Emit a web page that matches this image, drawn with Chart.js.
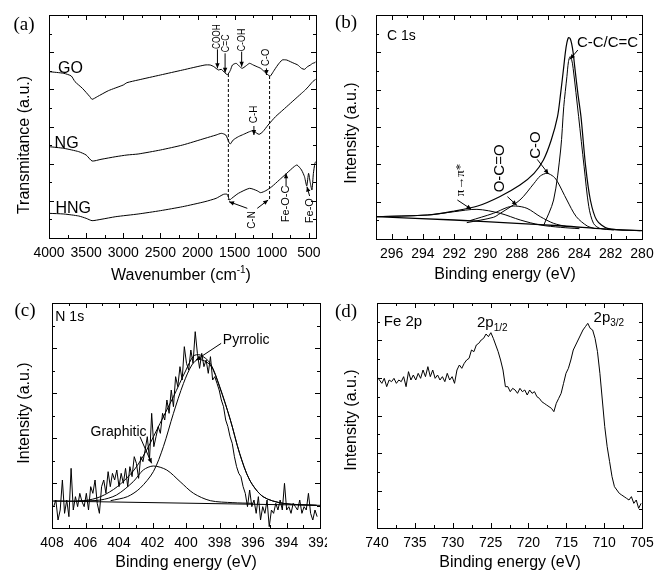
<!DOCTYPE html>
<html>
<head>
<meta charset="utf-8">
<script src="https://cdn.jsdelivr.net/npm/chart.js@4.4.1/dist/chart.umd.min.js"></script>
<style>
html, body { margin: 0; padding: 0; background: #fff; }
#wrap { position: relative; width: 654px; height: 573px; overflow: hidden; background: #fff; }
.pan { position: absolute; }
</style>
</head>
<body>
<div id="wrap">
  <div class="pan" style="left:0;top:0;width:327px;height:287px"><canvas id="ftir"></canvas></div>
  <div class="pan" style="left:327px;top:0;width:327px;height:287px"><canvas id="c1s"></canvas></div>
  <div class="pan" style="left:0;top:287px;width:327px;height:286px"><canvas id="n1s"></canvas></div>
  <div class="pan" style="left:327px;top:287px;width:327px;height:286px"><canvas id="fe2p"></canvas></div>
</div>
<script>
// ---- (a) FTIR, transmittance in arbitrary units
const ftirTicks = [4000, 3500, 3000, 2500, 2000, 1500, 1000, 500];
const goWave = [4000, 3800, 3700, 3650, 3550, 3450, 3420, 3350, 3200, 3000, 2950, 2800, 2500, 2200, 1900, 1830, 1780, 1720, 1680, 1600, 1560, 1530, 1480, 1440, 1400, 1350, 1300, 1250, 1200, 1150, 1100, 1050, 1020, 980, 920, 860, 800, 750, 700, 650, 600, 560, 520, 480, 450, 420, 410];
const goT = [499, 494, 486, 469, 449, 424, 416, 424, 442, 459, 466, 474, 489, 504, 519, 519, 514, 504, 506, 490, 502, 519, 524, 516, 509, 516, 524, 519, 514, 509, 499, 489, 486, 499, 519, 534, 534, 529, 524, 519, 509, 506, 514, 519, 524, 526, 529];
const ngWave = [4000, 3800, 3600, 3500, 3420, 3300, 3100, 2950, 2800, 2500, 2200, 1900, 1750, 1680, 1620, 1580, 1560, 1520, 1450, 1380, 1300, 1250, 1200, 1170, 1120, 1050, 950, 850, 750, 700, 650, 600, 550, 500, 450, 410];
const ngT = [274, 269, 259, 249, 231, 236, 244, 249, 252, 264, 279, 299, 309, 314, 309, 289, 282, 294, 304, 311, 319, 322, 314, 311, 319, 339, 364, 384, 404, 414, 424, 434, 444, 456, 469, 476];
const hngWave = [4000, 3800, 3600, 3500, 3420, 3300, 3100, 2800, 2500, 2200, 1900, 1750, 1650, 1600, 1570, 1540, 1450, 1300, 1200, 1150, 1080, 1000, 900, 800, 700, 660, 600, 560, 530, 505, 485, 460, 440, 420, 410];
const hngT = [74, 72, 66, 59, 52, 56, 64, 72, 82, 94, 109, 119, 131, 131, 114, 119, 134, 149, 142, 136, 142, 154, 174, 194, 214, 219, 204, 184, 156, 194, 169, 144, 194, 224, 229];

// ---- (b) C 1s
const c1sTicks = [296, 294, 292, 290, 288, 286, 284, 282, 280];
const c1sEnvE = [297, 293.7, 292, 290.5, 289.1, 287.8, 286.9, 286.3, 285.8, 285.4, 285.2, 285.0, 284.9, 284.8, 284.7, 284.6, 284.5, 284.4, 284.3, 284.1, 283.9, 283.6, 283.3, 282.9, 282.2, 280.1];
const c1sEnv = [67, 72, 84, 99, 127, 162, 197, 237, 297, 367, 437, 517, 559, 589, 604, 602, 587, 559, 517, 437, 367, 217, 117, 57, 32, 25];
const ccE = [286.3, 285.65, 285.2, 285.0, 284.8, 284.7, 284.6, 284.5, 284.4, 284.05, 283.7, 283.4, 283.1, 282.7, 281.8];
const ccI = [39, 117, 267, 397, 487, 532, 547, 539, 512, 367, 217, 97, 47, 32, 27];
const coE = [291.2, 289.5, 289.06, 287.8, 286.9, 286.5, 286.07, 285.65, 285.4, 284.8, 284.2, 283.5, 283.0];
const coI = [49, 65, 77, 117, 167, 189, 197, 187, 172, 117, 67, 39, 31];
const ocoE = [291.0, 289.5, 288.6, 288.1, 287.35, 286.5, 285.65, 284.8];
const ocoI = [55, 77, 95, 99, 92, 67, 47, 37];
const piE = [297, 293.7, 292.0, 290.55, 289.06, 287.78, 286.5, 285.2, 284.0];
const piI = [67, 72, 82, 89, 77, 57, 42, 35, 31];
const c1sBgE = [297, 292, 288, 285, 283, 282, 280];
const c1sBg = [67, 57, 47, 39, 32, 29, 25];

// ---- (c) N 1s, measured points start at 407.9 eV, 0.13 eV apart
const n1sTicks = [408, 406, 404, 402, 400, 398, 396, 394, 392];
const n1sStart = 407.9, n1sStep = 0.13;
const n1sRaw = [64, 84, 24, 54, 144, 44, 84, 34, 179, 54, 94, 64, 104, 79, 64, 104, 54, 124, 104, 144,
  74, 44, 124, 144, 104, 169, 124, 164, 144, 174, 124, 164, 134, 179, 124, 184, 154, 214, 194, 149,
  214, 199, 234, 274, 204, 344, 244, 274, 304, 284, 344, 324, 384, 344, 414, 364, 454, 424, 484, 444,
  544, 494, 474, 534, 494, 589, 524, 479, 524, 484, 504, 464, 514, 444, 454, 434, 414, 384, 364, 324,
  304, 274, 254, 214, 184, 164, 154, 124, 104, 64, 114, 64, 84, 44, 94, 24, 64, 44, 84, 4,
  54, 44, 74, 54, 84, 54, 134, 54, 64, 44, 74, 64, 54, 84, 44, 64, 54, 104, 44, 24, 54, 34];
const n1sEnvE = [407.9, 406.1, 405.1, 404.1, 403.1, 402.35, 401.55, 400.75, 400.0, 399.55, 399.15, 398.55, 398.0, 397.35, 396.8, 396.2, 395.4, 394.2, 392.2];
const n1sEnv = [81, 82, 94, 124, 174, 234, 314, 394, 474, 516, 519, 494, 426, 324, 224, 144, 94, 74, 68];
const pyrE = [404.5, 403.5, 402.75, 401.95, 401.35, 400.75, 400.15, 399.65, 399.25, 398.55, 398.0, 397.35, 396.8, 396.2, 395.4, 394.2, 392.2];
const pyrI = [82, 94, 119, 169, 244, 344, 434, 489, 506, 489, 424, 324, 224, 144, 94, 74, 68];
const graE = [406.5, 405.1, 404.15, 403.15, 402.55, 401.95, 401.15, 400.35, 399.55, 398.55, 397.2, 396.0];
const graI = [81, 84, 99, 139, 174, 186, 174, 139, 104, 82, 76, 74];
const n1sBgE = [408, 392];
const n1sBg = [81, 68];

// ---- (d) Fe 2p, measured points start at 740 eV, 0.32 eV apart
const fe2pTicks = [740, 735, 730, 725, 720, 715, 710, 705];
const fe2pStart = 740, fe2pStep = 0.32;
const fe2pRaw = [454, 444, 434, 449, 424, 444, 439, 449, 434, 444, 439, 454, 424, 469, 444, 459, 444, 464, 449, 474,
  454, 484, 454, 474, 449, 459, 444, 454, 439, 464, 444, 454, 434, 474, 489, 479, 494, 504, 509, 534,
  529, 549, 554, 564, 569, 582, 574, 586, 569, 549, 529, 504, 474, 424, 424, 409, 419, 414, 404, 419,
  409, 414, 399, 414, 404, 409, 394, 389, 379, 374, 369, 364, 359, 349, 374, 389, 404, 434, 464, 479,
  504, 534, 549, 564, 579, 594, 604, 614, 599, 594, 569, 529, 464, 384, 304, 244, 199, 154, 124, 114,
  104, 99, 94, 89, 84, 94, 74, 84, 59, 74];

const FAM = "'Liberation Sans', Arial, sans-serif";
const SERIF = "'Liberation Serif', 'Times New Roman', serif";

function curve(xs, ys, w, tension) {
  return {
    data: xs.map((x, i) => ({ x: x, y: ys[i] })),
    borderColor: '#000', borderWidth: w || 1, pointRadius: 0,
    showLine: true, fill: false, tension: tension || 0
  };
}
function spectrum(start, step, ys) {
  return {
    data: ys.map((y, i) => ({ x: start - i * step, y: y })),
    borderColor: '#000', borderWidth: 1, pointRadius: 0, showLine: true, fill: false, tension: 0
  };
}

function rich(ctx, parts, x, y, size, family, align) {
  const segs = parts.map(p => typeof p === 'string' ? { t: p } : p);
  let w = 0;
  segs.forEach(s => {
    ctx.font = (s.s ? Math.round(size * 0.65) : size) + 'px ' + family;
    s.w = ctx.measureText(s.t).width; w += s.w;
  });
  let cx = align === 'left' ? x : x - w / 2;
  ctx.textAlign = 'left'; ctx.textBaseline = 'middle';
  segs.forEach(s => {
    ctx.font = (s.s ? Math.round(size * 0.65) : size) + 'px ' + family;
    const dy = s.s === 'sub' ? size * 0.35 : s.s === 'sup' ? -size * 0.38 : 0;
    ctx.fillText(s.t, cx, y + dy);
    cx += s.w;
  });
}

function arrow(ctx, x1, y1, x2, y2, head) {
  ctx.beginPath(); ctx.moveTo(x1, y1); ctx.lineTo(x2, y2); ctx.stroke();
  if (!head) return;
  const a = Math.atan2(y2 - y1, x2 - x1), L = 5, W = 2.2;
  ctx.beginPath();
  ctx.moveTo(x2, y2);
  ctx.lineTo(x2 - L * Math.cos(a) + W * Math.sin(a), y2 - L * Math.sin(a) - W * Math.cos(a));
  ctx.lineTo(x2 - L * Math.cos(a) - W * Math.sin(a), y2 - L * Math.sin(a) + W * Math.cos(a));
  ctx.closePath(); ctx.fill();
}

// frame, inward ticks on four sides, notes and titles
const deco = {
  id: 'deco',
  afterDatasetsDraw(chart, args, o) {
    const ctx = chart.ctx, a = chart.chartArea, sx = chart.scales.x, sy = chart.scales.y;
    const px = v => sx.getPixelForValue(v), py = v => sy.getPixelForValue(v);
    ctx.save();
    ctx.strokeStyle = '#000'; ctx.fillStyle = '#000'; ctx.lineWidth = 1;
    ctx.strokeRect(Math.round(a.left) + 0.5, Math.round(a.top) + 0.5, Math.round(a.right - a.left), Math.round(a.bottom - a.top));
    ctx.beginPath();
    const t = o.xTicks;
    for (let v = t.from; v <= t.to + 1e-6; v += t.step) {
      const r = v / t.major, len = Math.abs(r - Math.round(r)) < 1e-6 ? 5 : 3;
      const X = Math.round(px(v)) + 0.5;
      ctx.moveTo(X, a.bottom); ctx.lineTo(X, a.bottom - len);
      ctx.moveTo(X, a.top); ctx.lineTo(X, a.top + len);
    }
    for (let i = 1; i < o.yDiv; i++) {
      const Y = Math.round(py(sy.max * i / o.yDiv)) + 0.5, len = i % 2 ? 3 : 5;
      ctx.moveTo(a.left, Y); ctx.lineTo(a.left + len, Y);
      ctx.moveTo(a.right, Y); ctx.lineTo(a.right - len, Y);
    }
    ctx.stroke();

    (o.dashed || []).forEach(d => {
      ctx.save(); ctx.setLineDash([3, 2]);
      ctx.beginPath(); ctx.moveTo(px(d[0]), py(d[1])); ctx.lineTo(px(d[2]), py(d[3])); ctx.stroke();
      ctx.restore();
    });
    (o.arrows || []).forEach(d => arrow(ctx, px(d[0]), py(d[1]), px(d[2]), py(d[3]), true));

    (o.notes || []).forEach(n => {
      const X = n.px !== undefined ? n.px : px(n.x);
      const Y = n.py !== undefined ? n.py : py(n.y);
      ctx.save();
      ctx.translate(X, Y);
      if (n.rot) ctx.rotate(-Math.PI / 2);
      if (n.squeeze) ctx.scale(n.squeeze, 1);
      rich(ctx, Array.isArray(n.t) ? n.t : [n.t], 0, 0, n.size || 11, n.family || FAM, n.align);
      ctx.restore();
    });
    ctx.restore();
  }
};

function options(c) {
  return {
    responsive: true, maintainAspectRatio: false, animation: false, events: [],
    layout: { padding: { top: c.top, right: c.right, left: 0, bottom: 0 } },
    scales: {
      x: {
        type: 'linear', reverse: true, min: c.xMin, max: c.xMax,
        grid: { display: false, drawTicks: false }, border: { display: false },
        ticks: {
          autoSkip: false, maxRotation: 0, padding: 7, color: '#000',
          font: { family: FAM, size: 14 },
          callback: v => String(v)
        },
        afterBuildTicks(s) { s.ticks = c.ticks.map(v => ({ value: v })); },
        afterFit(s) { s.height = c.xHeight; s.paddingLeft = 0; s.paddingRight = 0; }
      },
      y: {
        type: 'linear', min: 0, max: c.yMax,
        grid: { display: false, drawTicks: false }, border: { display: false },
        ticks: { display: false },
        afterFit(s) { s.width = c.yWidth; s.paddingTop = 0; s.paddingBottom = 0; }
      }
    },
    plugins: { legend: { display: false }, tooltip: { enabled: false }, deco: c.deco }
  };
}

const xTitleBE = ['Binding energy (eV)'];

// (a)
new Chart(document.getElementById('ftir'), {
  type: 'scatter',
  data: { datasets: [curve(goWave, goT, 1, 0.2), curve(ngWave, ngT, 1, 0.2), curve(hngWave, hngT, 1, 0.2)] },
  options: options({
    top: 15, right: 11, xHeight: 49, yWidth: 49, xMin: 405, xMax: 4000, ticks: ftirTicks, yMax: 669,
    deco: {
      xTicks: { from: 500, to: 4000, step: 250, major: 500 }, yDiv: 12,
      dashed: [[1585, 492, 1585, 114], [1030, 486, 1030, 114]],
      arrows: [[1732, 566, 1732, 509], [1629, 554, 1629, 496], [1406, 559, 1406, 514], [1072, 509, 1072, 489],
        [1241, 336, 1241, 309], [1330, 89, 1576, 109], [1196, 89, 1049, 114], [808, 154, 808, 194], [491, 126, 527, 154]],
      notes: [
        { t: '(a)', px: 24, py: 25, size: 19, family: SERIF },
        { t: 'Transmitance (a.u.)', px: 25, py: 145, size: 16, rot: true },
        { t: ['Wavenumber (cm', { t: '-1', s: 'sup' }, ')'], px: 181, py: 276, size: 16 },
        { t: 'GO', x: 3710, y: 507, size: 16 },
        { t: 'NG', x: 3763, y: 284, size: 16 },
        { t: 'HNG', x: 3674, y: 89, size: 16 },
        { t: 'COOH', x: 1740, y: 604, size: 11, rot: true, squeeze: 0.75 },
        { t: 'C=C', x: 1622, y: 584, size: 11, rot: true, squeeze: 0.8 },
        { t: 'C-OH', x: 1406, y: 594, size: 11, rot: true, squeeze: 0.8 },
        { t: 'C-O', x: 1072, y: 542, size: 11, rot: true, squeeze: 0.85 },
        { t: 'C-H', x: 1241, y: 371, size: 11, rot: true, squeeze: 0.9 },
        { t: 'C-N', x: 1263, y: 54, size: 11, rot: true, squeeze: 0.9 },
        { t: 'Fe-O-C', x: 808, y: 102, size: 11, rot: true },
        { t: 'Fe-O', x: 491, y: 82, size: 11, rot: true }
      ]
    }
  }),
  plugins: [deco]
});

// (b)
new Chart(document.getElementById('c1s'), {
  type: 'scatter',
  data: { datasets: [curve(c1sBgE, c1sBg, 1.3, 0.3), curve(piE, piI, 1, 0.3), curve(ocoE, ocoI, 1, 0.3),
    curve(coE, coI, 1, 0.3), curve(ccE, ccI, 1, 0.3), curve(c1sEnvE, c1sEnv, 1.2, 0.3)] },
  options: options({
    top: 15, right: 12, xHeight: 48, yWidth: 49, xMin: 280, xMax: 297, ticks: c1sTicks, yMax: 672,
    deco: {
      xTicks: { from: 280, to: 297, step: 1, major: 2 }, yDiv: 12,
      arrows: [[284.1, 567, 284.6, 539], [286.7, 239, 285.97, 195], [288.6, 127, 288.0, 101], [291.8, 117, 290.9, 89]],
      notes: [
        { t: '(b)', px: 19, py: 23, size: 19, family: SERIF },
        { t: 'Intensity (a.u.)', px: 25, py: 133, size: 16, rot: true },
        { t: xTitleBE, px: 178, py: 275, size: 16 },
        { t: 'C 1s', x: 296.3, y: 609, size: 14, align: 'left' },
        { t: 'C-C/C=C', x: 284.16, y: 589, size: 15, align: 'left' },
        { t: 'C-O', x: 286.8, y: 282, size: 15, rot: true },
        { t: 'O-C=O', x: 289.1, y: 212, size: 15, rot: true },
        { t: 'π→π*', x: 291.6, y: 177, size: 13, family: SERIF, rot: true }
      ]
    }
  }),
  plugins: [deco]
});

// (c)
new Chart(document.getElementById('n1s'), {
  type: 'scatter',
  data: { datasets: [spectrum(n1sStart, n1sStep, n1sRaw), curve(n1sBgE, n1sBg, 1), curve(graE, graI, 1, 0.3),
    curve(pyrE, pyrI, 1, 0.3), curve(n1sEnvE, n1sEnv, 1, 0.3)] },
  options: options({
    top: 16, right: 7, xHeight: 45, yWidth: 52, xMin: 392, xMax: 408, ticks: n1sTicks, yMax: 675,
    deco: {
      xTicks: { from: 392, to: 408, step: 1, major: 2 }, yDiv: 10,
      arrows: [[397.9, 554, 399.4, 504], [402.75, 274, 402.05, 194]],
      notes: [
        { t: '(c)', px: 25, py: 24, size: 19, family: SERIF },
        { t: 'Intensity (a.u.)', px: 25, py: 126, size: 16, rot: true },
        { t: xTitleBE, px: 186, py: 276, size: 16 },
        { t: 'N 1s', x: 407.8, y: 634, size: 14, align: 'left' },
        { t: 'Pyrrolic', x: 397.8, y: 564, size: 14, align: 'left' },
        { t: 'Graphitic', x: 405.7, y: 289, size: 14, align: 'left' }
      ]
    }
  }),
  plugins: [deco]
});

// (d)
new Chart(document.getElementById('fe2p'), {
  type: 'scatter',
  data: { datasets: [spectrum(fe2pStart, fe2pStep, fe2pRaw)] },
  options: options({
    top: 16, right: 12, xHeight: 45, yWidth: 50, xMin: 705, xMax: 740, ticks: fe2pTicks, yMax: 675,
    deco: {
      xTicks: { from: 705, to: 740, step: 2.5, major: 5 }, yDiv: 12,
      notes: [
        { t: '(d)', px: 19, py: 25, size: 19, family: SERIF },
        { t: 'Intensity (a.u.)', px: 25, py: 133, size: 16, rot: true },
        { t: xTitleBE, px: 183, py: 276, size: 16 },
        { t: 'Fe 2p', x: 739.1, y: 619, size: 15, align: 'left' },
        { t: ['2p', { t: '1/2', s: 'sub' }], x: 726.8, y: 614, size: 15, align: 'left' },
        { t: ['2p', { t: '3/2', s: 'sub' }], x: 711.4, y: 629, size: 15, align: 'left' }
      ]
    }
  }),
  plugins: [deco]
});
</script>
</body>
</html>
